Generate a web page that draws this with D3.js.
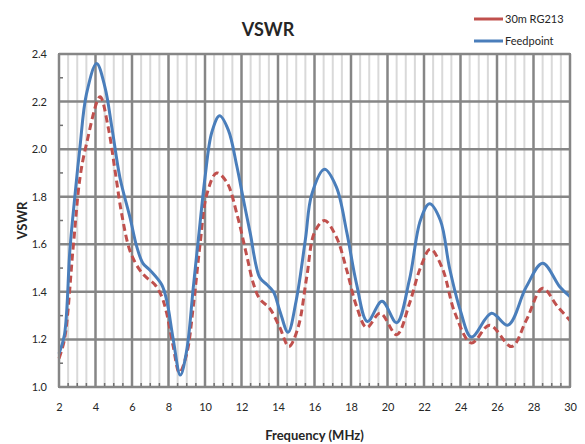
<!DOCTYPE html>
<html>
<head>
<meta charset="utf-8">
<script src="https://cdn.jsdelivr.net/npm/d3@7"></script>
<style>
  body { margin: 0; background: #fff; }
  text { font-family: Lato, "Liberation Sans", sans-serif; fill: #262626; }
</style>
</head>
<body>
<div id="chart"></div>
<script>
// our data
const feedFreq = [2.0, 2.3, 2.6, 2.88, 3.15, 3.5, 4.06, 4.52, 4.9, 5.34, 5.9, 6.26, 6.6, 7.0, 7.63, 7.9,
	8.26, 8.65, 9.0, 9.36, 9.73, 10.0, 10.37, 10.8, 11.28, 11.74, 12.1, 12.47, 13.0, 13.4, 13.75, 14.1,
	14.55, 15.0, 15.5, 15.85, 16.55, 17.2, 17.77, 18.3, 18.9, 19.7, 20.5, 21.2, 21.8, 22.3, 22.9, 23.4,
	24.0, 24.6, 25.7, 26.6, 27.6, 28.5, 29.45, 30]
const feedVswr = [1.14, 1.22, 1.58, 1.81, 2.01, 2.23, 2.36, 2.26, 2.09, 1.88, 1.71, 1.59, 1.52, 1.49, 1.43, 1.365,
	1.20, 1.05, 1.155, 1.42, 1.69, 1.88, 2.07, 2.14, 2.08, 1.93, 1.79, 1.65, 1.46, 1.43, 1.40, 1.32,
	1.23, 1.365, 1.62, 1.81, 1.915, 1.84, 1.65, 1.435, 1.275, 1.36, 1.27, 1.45, 1.70, 1.77, 1.70, 1.50,
	1.32, 1.21, 1.31, 1.26, 1.42, 1.52, 1.42, 1.38]

const coaxFreq = [2.0, 2.3, 2.78, 3.15, 3.5, 4.25, 4.7, 5.07, 5.43, 5.9, 6.44, 6.8, 7.26, 7.63, 7.9, 8.26,
	8.6, 9.0, 9.36, 9.73, 10.1, 10.64, 11.2, 11.74, 12.28, 12.65, 13.0, 13.55, 14.1, 14.6, 15.1, 15.57,
	16.0, 16.55, 17.2, 17.77, 18.3, 18.86, 19.6, 20.5, 21.2, 21.8, 22.35, 23.0, 23.7, 24.6, 25.6, 26.8,
	27.6, 28.5, 29.3, 30]
const coaxVswr = [1.12, 1.20, 1.59, 1.88, 2.02, 2.22, 2.09, 1.91, 1.73, 1.57, 1.49, 1.46, 1.43, 1.38, 1.31, 1.17,
	1.06, 1.14, 1.34, 1.60, 1.81, 1.90, 1.86, 1.73, 1.555, 1.435, 1.37, 1.33, 1.25, 1.17, 1.25, 1.46,
	1.65, 1.70, 1.63, 1.49, 1.34, 1.25, 1.31, 1.22, 1.35, 1.50, 1.58, 1.50, 1.31, 1.185, 1.26, 1.17,
	1.28, 1.415, 1.34, 1.28]

const xTicks = [2, 4, 6, 8, 10, 12, 14, 16, 18, 20, 22, 24, 26, 28, 30]
const yTicks = [1.0, 1.2, 1.4, 1.6, 1.8, 2.0, 2.2, 2.4]

const seriesNames = ['30m RG213', 'Feedpoint']

/**
 * Layout
 * */
const width = 585
const height = 444
const plot = {left: 59, right: 570, top: 54, bottom: 387}

const blue = '#4a7ebb'
const red = '#c0504d'
const darkGrid = '#868686'
const lightGrid = '#d9d9d9'

const x = d3.scaleLinear().domain([2, 30]).range([plot.left, plot.right])
const y = d3.scaleLinear().domain([1.0, 2.4]).range([plot.bottom, plot.top])

const $svg = d3.select('#chart')
	.append('svg')
	.attr('width', width)
	.attr('height', height)

// minor verticals every 0.5 MHz
const minorX = d3.range(2, 30.01, 0.5).filter(f => f % 2 !== 0)
const minorY = d3.range(1.0, 2.41, 0.1).map(v => +v.toFixed(1)).filter(v => !yTicks.includes(v))

$svg.append('g')
	.selectAll('line')
	.data(minorX)
	.join('line')
		.attr('x1', d => x(d)).attr('x2', d => x(d))
		.attr('y1', plot.top).attr('y2', plot.bottom)
		.attr('stroke', lightGrid)
		.attr('stroke-width', 2)

// major grid
$svg.append('g')
	.selectAll('line')
	.data(xTicks)
	.join('line')
		.attr('x1', d => x(d)).attr('x2', d => x(d))
		.attr('y1', plot.top).attr('y2', plot.bottom)
		.attr('stroke', darkGrid)
		.attr('stroke-width', 2.5)

$svg.append('g')
	.selectAll('line')
	.data(yTicks)
	.join('line')
		.attr('x1', plot.left).attr('x2', plot.right)
		.attr('y1', d => y(d)).attr('y2', d => y(d))
		.attr('stroke', darkGrid)
		.attr('stroke-width', 2.5)

// small inside ticks on the bottom and left axes
$svg.append('g')
	.selectAll('line')
	.data(minorX)
	.join('line')
		.attr('x1', d => x(d)).attr('x2', d => x(d))
		.attr('y1', plot.bottom).attr('y2', plot.bottom - 4)
		.attr('stroke', '#707070')
		.attr('stroke-width', 1.5)

$svg.append('g')
	.selectAll('line')
	.data(minorY)
	.join('line')
		.attr('x1', plot.left).attr('x2', plot.left + 4)
		.attr('y1', d => y(d)).attr('y2', d => y(d))
		.attr('stroke', '#707070')
		.attr('stroke-width', 1.5)

/**
 * Axes
 * */
const $xAxis = $svg.append('g')
	.attr('transform', `translate(0, ${plot.bottom})`)
	.call(d3.axisBottom(x).tickValues(xTicks).tickSize(0).tickPadding(16).tickFormat(d3.format('d')))
$xAxis.select('.domain').remove()
$xAxis.selectAll('text').style('font-size', '11px').style('font-family', 'Lato, sans-serif').attr('fill', '#262626')

const $yAxis = $svg.append('g')
	.attr('transform', `translate(${plot.left}, 0)`)
	.call(d3.axisLeft(y).tickValues(yTicks).tickSize(0).tickPadding(12).tickFormat(d3.format('.1f')))
$yAxis.select('.domain').remove()
$yAxis.selectAll('text').style('font-size', '11px').style('font-family', 'Lato, sans-serif').attr('fill', '#262626')

/**
 * Lines
 * */
const line = d3.line()
	.x(d => x(d[0]))
	.y(d => y(d[1]))
	.curve(d3.curveCatmullRom.alpha(0.5))

$svg.append('path')
	.datum(d3.zip(coaxFreq, coaxVswr))
	.attr('d', line)
	.attr('fill', 'none')
	.attr('stroke', red)
	.attr('stroke-width', 3)
	.attr('stroke-dasharray', '7,4')

$svg.append('path')
	.datum(d3.zip(feedFreq, feedVswr))
	.attr('d', line)
	.attr('fill', 'none')
	.attr('stroke', blue)
	.attr('stroke-width', 3)

// plot border on top
$svg.append('rect')
	.attr('x', plot.left).attr('y', plot.top)
	.attr('width', plot.right - plot.left).attr('height', plot.bottom - plot.top)
	.attr('fill', 'none')
	.attr('stroke', darkGrid)
	.attr('stroke-width', 2)

/**
 * Titles and legend
 * */
$svg.append('text')
	.attr('x', 268).attr('y', 36)
	.attr('text-anchor', 'middle')
	.style('font-size', '18px')
	.style('font-weight', 'bold')
	.text('VSWR')

$svg.append('text')
	.attr('transform', `translate(27, ${(plot.top + plot.bottom) / 2}) rotate(-90)`)
	.attr('text-anchor', 'middle')
	.style('font-size', '13px')
	.style('font-weight', 'bold')
	.text('VSWR')

$svg.append('text')
	.attr('x', (plot.left + plot.right) / 2).attr('y', 440)
	.attr('text-anchor', 'middle')
	.style('font-size', '13px')
	.style('font-weight', 'bold')
	.text('Frequency (MHz)')

const legendColors = [red, blue]
const $legend = $svg.append('g')
	.selectAll('g')
	.data(seriesNames)
	.join('g')
		.attr('transform', (d, i) => `translate(474, ${19 + i * 22})`)

$legend.append('line')
	.attr('x1', 0).attr('x2', 29)
	.attr('stroke', (d, i) => legendColors[i])
	.attr('stroke-width', 3)

$legend.append('text')
	.attr('x', 31).attr('y', 4)
	.style('font-size', '11px')
	.text(d => d)
</script>
</body>
</html>
